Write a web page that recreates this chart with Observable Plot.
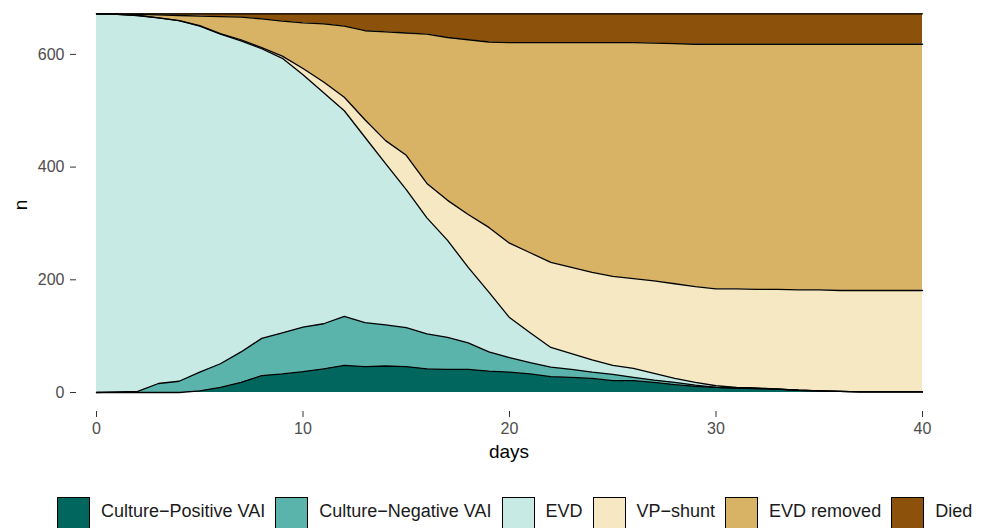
<!DOCTYPE html>
<html>
<head>
<meta charset="utf-8">
<script src="https://cdn.jsdelivr.net/npm/d3@7"></script>
<script src="https://cdn.jsdelivr.net/npm/@observablehq/plot@0.6"></script>
<style>
  html, body { margin: 0; padding: 0; background: #fff; }
  #wrap { position: relative; width: 986px; height: 528px; overflow: hidden; font-family: "Liberation Sans", Arial, sans-serif; }
  #legend { position: absolute; top: 497px; left: 57px; display: flex; align-items: flex-start; white-space: nowrap; }
  .key { width: 33px; height: 33px; box-sizing: border-box; border: 1.6px solid #000; flex: none; }
  .lab { font-size: 18px; color: #1a1a1a; margin: 5px 10px 0 11px; line-height: 18px; }
</style>
</head>
<body>
<div id="wrap"><div id="chart"></div><div id="legend"></div></div>
<script>
const days = [0,1,2,3,4,5,6,7,8,9,10,11,12,13,14,15,16,17,18,19,20,21,22,23,24,25,26,27,28,29,30,31,32,33,34,35,36,37,38,39,40];
const seriesNames = ["Culture\u2212Positive VAI", "Culture\u2212Negative VAI", "EVD", "VP\u2212shunt", "EVD removed", "Died"];
const seriesColors = ["#01665e", "#5ab4ac", "#c7eae5", "#f6e8c3", "#d8b365", "#8c510a"];
const culturePositive = [0,0,0,0,0,3,9,18,30,33,37,42,48,46,47,46,42,41,41,38,36,33,28,27,25,21,21,18,14,11,9,8,7,6,4,3,2,1,1,1,1];
const cultureNegative = [0,1,2,16,20,33,42,54,66,73,79,80,87,78,73,69,62,57,47,34,26,20,17,14,11,11,6,4,4,2,0,0,0,0,0,0,0,0,0,0,0];
const evd = [672,670,667,649,640,614,585,552,514,487,448,410,365,329,286,245,206,172,134,106,71,53,35,28,22,16,16,12,7,5,3,1,1,0,0,0,0,0,0,0,0];
const vpShunt = [0,0,0,0,0,1,1,2,2,4,11,19,24,31,41,61,61,71,94,115,132,142,151,153,155,158,159,164,168,170,172,175,175,177,178,179,179,180,180,180,180];
const evdRemoved = [0,1,2,5,9,17,30,40,51,62,81,103,126,158,193,217,265,289,310,329,356,373,390,399,408,415,419,422,426,430,434,434,435,435,436,436,437,437,437,437,437];
const died = [0,0,1,2,3,4,5,6,9,13,16,18,22,30,32,34,36,42,46,50,51,51,51,51,51,51,51,52,53,54,54,54,54,54,54,54,54,54,54,54,54];
const yTicks = [0, 200, 400, 600];
const xTicks = [0, 10, 20, 30, 40];

const seriesValues = [culturePositive, cultureNegative, evd, vpShunt, evdRemoved, died];
const rows = [];
seriesNames.forEach((name, si) => {
  days.forEach((d, i) => rows.push({day: d, series: name, n: seriesValues[si][i]}));
});

const W = 986, H = 490;
const mL = 76, mR = 44, mT = 0, mB = 79;
const pxPerDay = 20.65;
const xPad = 20 / pxPerDay;
const pxPerN = 0.5635;
const yLo = -19 / pxPerN;
const yHi = 392 / pxPerN;

const stackOpts = {x: "day", y: "n", z: "series", order: seriesNames};

const plot = Plot.plot({
  width: W, height: H,
  marginLeft: mL, marginRight: mR, marginTop: mT, marginBottom: mB,
  style: {fontFamily: "'Liberation Sans', Arial, sans-serif", background: "#fff", overflow: "visible"},
  x: {domain: [days[0] - xPad, days[days.length - 1] + xPad]},
  y: {domain: [yLo, yHi]},
  color: {domain: seriesNames, range: seriesColors},
  marks: [
    Plot.areaY(rows, Plot.stackY({...stackOpts, fill: "series"})),
    Plot.lineY(rows, Plot.stackY2({...stackOpts, stroke: "#000", strokeWidth: 1.3})),
    Plot.axisY({ticks: yTicks, tickSize: 6, tickPadding: 6, fontSize: 16, stroke: "#333", fill: "#4d4d4d", color: "#4d4d4d", label: null}),
    Plot.axisX({ticks: xTicks, tickSize: 6, tickPadding: 5, fontSize: 16, stroke: "#333", fill: "#4d4d4d", color: "#4d4d4d", label: null})
  ]
});
document.getElementById("chart").appendChild(plot);

const svg = d3.select(plot);
svg.append("text").attr("x", (mL + W - mR) / 2).attr("y", 458).attr("text-anchor", "middle")
  .attr("font-size", 19).attr("fill", "#000").text("days");
svg.append("text").attr("transform", "translate(27,205) rotate(-90)").attr("text-anchor", "middle")
  .attr("font-size", 19).attr("fill", "#000").text("n");

const legend = d3.select("#legend");
seriesNames.forEach((name, i) => {
  legend.append("div").attr("class", "key").style("background", seriesColors[i]);
  legend.append("div").attr("class", "lab").text(name);
});
</script>
</body>
</html>
